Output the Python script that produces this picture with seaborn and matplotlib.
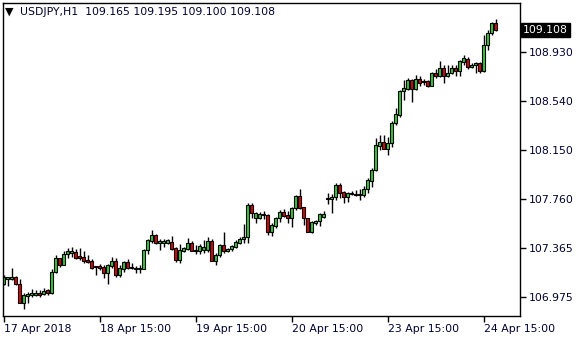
import matplotlib
matplotlib.use("Agg")
import matplotlib.pyplot as plt
import matplotlib.transforms as mtransforms
import seaborn as sns
import numpy as np

symbol = "USDJPY,H1"
last_ohlc = ["109.165", "109.195", "109.100", "109.108"]
current_price = 109.108

opens = [107.076, 107.116, 107.119, 107.135, 107.076, 106.930, 106.985, 106.991, 106.993, 107.007,
         107.001, 107.031, 107.009, 107.172, 107.284, 107.233, 107.316, 107.329, 107.334, 107.302,
         107.292, 107.273, 107.262, 107.222, 107.222, 107.217, 107.169, 107.222, 107.262, 107.151,
         107.201, 107.254, 107.212, 107.206, 107.196, 107.198, 107.350, 107.424, 107.467, 107.404,
         107.404, 107.408, 107.416, 107.364, 107.270, 107.344, 107.358, 107.404, 107.342, 107.342,
         107.352, 107.352, 107.422, 107.265, 107.308, 107.388, 107.342, 107.356, 107.376, 107.408,
         107.435, 107.451, 107.707, 107.603, 107.603, 107.627, 107.627, 107.496, 107.544, 107.603,
         107.653, 107.629, 107.608, 107.683, 107.781, 107.691, 107.603, 107.496, 107.568, 107.581,
         107.616, 107.759, 107.759, 107.771, 107.871, 107.813, 107.775, 107.795, 107.791, 107.799,
         107.791, 107.834, 107.903, 107.988, 108.180, 108.209, 108.158, 108.202, 108.361, 108.430,
         108.616, 108.637, 108.707, 108.632, 108.712, 108.691, 108.696, 108.661, 108.765, 108.741,
         108.800, 108.741, 108.760, 108.800, 108.781, 108.853, 108.872, 108.808, 108.826, 108.845,
         108.781, 108.986, 109.079, 109.165]
highs = [107.151, 107.137, 107.206, 107.143, 107.119, 107.005, 107.015, 107.036, 107.031, 107.031,
         107.044, 107.041, 107.196, 107.308, 107.286, 107.340, 107.366, 107.372, 107.358, 107.366,
         107.344, 107.308, 107.276, 107.226, 107.238, 107.230, 107.238, 107.297, 107.284, 107.230,
         107.265, 107.276, 107.249, 107.222, 107.230, 107.356, 107.435, 107.510, 107.478, 107.435,
         107.435, 107.440, 107.462, 107.376, 107.398, 107.376, 107.443, 107.424, 107.390, 107.398,
         107.430, 107.451, 107.435, 107.324, 107.398, 107.496, 107.368, 107.392, 107.430, 107.451,
         107.558, 107.723, 107.723, 107.653, 107.656, 107.664, 107.635, 107.563, 107.616, 107.669,
         107.675, 107.664, 107.696, 107.789, 107.834, 107.696, 107.605, 107.581, 107.589, 107.643,
         107.661, 107.807, 107.795, 107.882, 107.882, 107.823, 107.815, 107.818, 107.829, 107.834,
         107.861, 107.925, 108.002, 108.241, 108.268, 108.265, 108.249, 108.382, 108.483, 108.627,
         108.707, 108.720, 108.712, 108.746, 108.738, 108.712, 108.707, 108.773, 108.792, 108.856,
         108.829, 108.826, 108.826, 108.826, 108.866, 108.906, 108.888, 108.845, 108.853, 108.853,
         109.066, 109.106, 109.172, 109.195]
lows = [107.068, 107.065, 107.111, 107.071, 106.925, 106.882, 106.930, 106.977, 106.983, 106.973,
        106.991, 106.991, 106.997, 107.167, 107.217, 107.228, 107.286, 107.297, 107.276, 107.270,
        107.244, 107.249, 107.196, 107.151, 107.190, 107.124, 107.081, 107.204, 107.137, 107.137,
        107.177, 107.196, 107.196, 107.169, 107.169, 107.196, 107.318, 107.404, 107.398, 107.350,
        107.376, 107.398, 107.350, 107.254, 107.249, 107.334, 107.350, 107.342, 107.318, 107.316,
        107.324, 107.336, 107.262, 107.230, 107.297, 107.324, 107.334, 107.344, 107.366, 107.398,
        107.404, 107.404, 107.603, 107.568, 107.595, 107.595, 107.470, 107.462, 107.523, 107.576,
        107.616, 107.563, 107.536, 107.669, 107.675, 107.550, 107.491, 107.486, 107.550, 107.542,
        107.603, 107.717, 107.648, 107.749, 107.767, 107.723, 107.731, 107.787, 107.781, 107.749,
        107.775, 107.807, 107.850, 107.983, 108.148, 108.154, 108.111, 108.174, 108.348, 108.414,
        108.547, 108.627, 108.533, 108.627, 108.659, 108.667, 108.653, 108.659, 108.725, 108.733,
        108.680, 108.733, 108.752, 108.739, 108.739, 108.826, 108.794, 108.800, 108.760, 108.760,
        108.773, 108.946, 109.066, 109.100]
closes = [107.132, 107.135, 107.135, 107.076, 106.930, 106.989, 106.997, 107.007, 107.005, 106.991,
          107.020, 107.009, 107.174, 107.284, 107.233, 107.318, 107.342, 107.344, 107.289, 107.284,
          107.265, 107.254, 107.206, 107.217, 107.206, 107.169, 107.228, 107.262, 107.148, 107.204,
          107.254, 107.206, 107.206, 107.196, 107.206, 107.350, 107.430, 107.467, 107.408, 107.422,
          107.422, 107.430, 107.358, 107.270, 107.350, 107.364, 107.404, 107.344, 107.352, 107.380,
          107.374, 107.422, 107.265, 107.308, 107.388, 107.342, 107.360, 107.382, 107.414, 107.438,
          107.451, 107.707, 107.643, 107.643, 107.637, 107.635, 107.496, 107.547, 107.603, 107.653,
          107.624, 107.608, 107.685, 107.781, 107.688, 107.603, 107.496, 107.573, 107.584, 107.635,
          107.637, 107.767, 107.771, 107.871, 107.807, 107.775, 107.807, 107.803, 107.799, 107.791,
          107.834, 107.906, 107.988, 108.188, 108.212, 108.158, 108.204, 108.366, 108.435, 108.621,
          108.640, 108.707, 108.632, 108.715, 108.685, 108.696, 108.661, 108.765, 108.741, 108.800,
          108.741, 108.763, 108.800, 108.781, 108.856, 108.880, 108.808, 108.826, 108.845, 108.781,
          108.986, 109.079, 109.159, 109.108]

time_labels = ["17 Apr 2018", "18 Apr 15:00", "19 Apr 15:00", "20 Apr 15:00", "23 Apr 15:00", "24 Apr 15:00"]
time_label_bars = [0, 24, 48, 72, 96, 120]
price_ticks = [108.930, 108.540, 108.150, 107.760, 107.365, 106.975]

sns.set_style("white")
plt.rcParams['font.family'] = ['DejaVu Sans']

TXT = '#000030'
fig = plt.figure(figsize=(5.8, 3.4), dpi=100)
fig.patch.set_facecolor('white')
ax = fig.add_axes([3/580, 1 - 316/340, 517/580, 313/340])
ax.set_facecolor('white')

x = np.arange(len(opens))
o = np.array(opens)
c = np.array(closes)
up = c >= o
bottom = np.minimum(o, c)
height = np.abs(c - o)

ax.vlines(x, lows, highs, color='black', linewidth=1, zorder=1)
ax.bar(x[up], height[up], bottom=bottom[up], width=0.55, color='#32CD32',
       edgecolor='black', linewidth=0.8, zorder=2)
ax.bar(x[~up], height[~up], bottom=bottom[~up], width=0.55, color='#E00000',
       edgecolor='black', linewidth=0.8, zorder=2)

ax.set_xlim(-0.125, 129.125)
ax.set_ylim(106.823, 109.321)

ax.yaxis.tick_right()
ax.set_yticks(price_ticks)
ax.set_yticklabels([f"{v:.3f}" for v in price_ticks])
ax.set_xticks(time_label_bars)
ax.set_xticklabels(time_labels, ha='left')
ax.tick_params(axis='both', direction='out', length=4, width=1, color='black',
               labelsize=7.8, labelcolor=TXT, pad=2)
ax.tick_params(axis='y', left=False, right=True)
ax.tick_params(axis='x', bottom=True)
for s in ax.spines.values():
    s.set_visible(True)
    s.set_color('black')
    s.set_linewidth(1)

trans = mtransforms.blended_transform_factory(ax.transAxes, ax.transData)
ax.text(1.006, current_price, f"{current_price:.3f}", transform=trans, color='white',
        fontsize=7.8, va='center', ha='left',
        bbox=dict(facecolor='black', edgecolor='black', boxstyle='square,pad=0.2'))

fig.text(5/580, 1 - 12/340, "\u25BC", fontsize=8, color='black', va='center', ha='left')
fig.text(20/580, 1 - 12/340, symbol + "  " + " ".join(last_ohlc), fontsize=7.8,
         color=TXT, va='center', ha='left')

fig.savefig("out.png", dpi=100, facecolor='white')
